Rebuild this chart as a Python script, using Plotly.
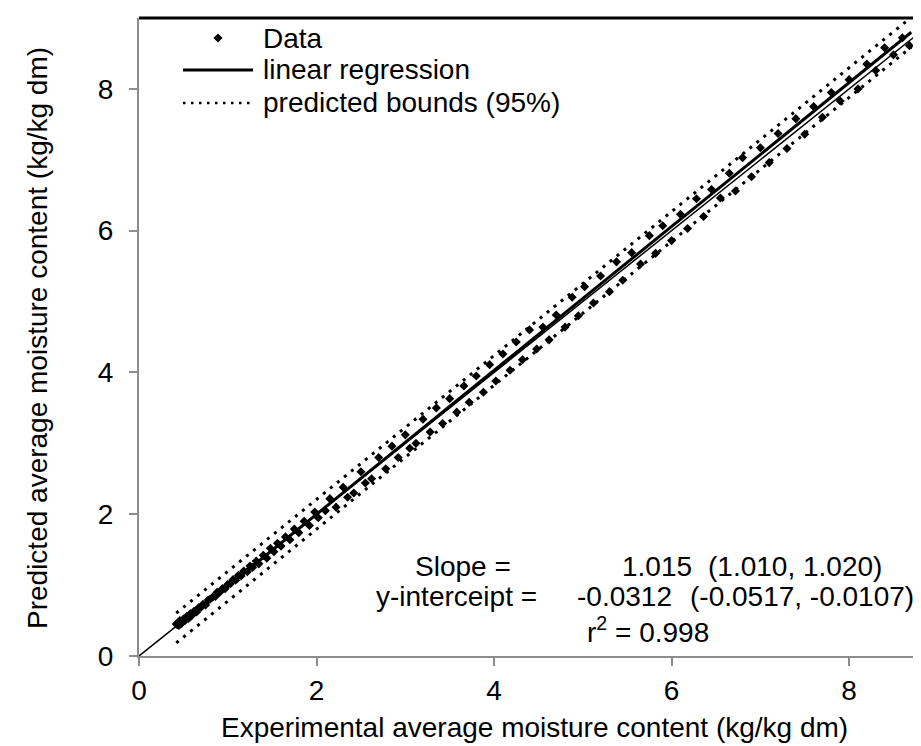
import plotly.graph_objects as go

# ---- data (approximate) ----
exp_x = [0.42, 0.44, 0.45, 0.46, 0.48, 0.50, 0.52, 0.54, 0.56, 0.58, 0.60, 0.62, 0.65, 0.67, 0.70,
         0.72, 0.75, 0.78, 0.80, 0.83, 0.86, 0.88, 0.91, 0.94, 0.97, 1.00, 1.03, 1.06, 1.09, 1.12,
         1.15, 1.18, 1.22, 1.25, 1.28, 1.32, 1.35, 1.40, 1.44, 1.48, 1.52, 1.56, 1.60, 1.65, 1.70,
         1.75, 1.80, 1.86, 1.92, 1.98, 2.02, 2.10, 2.15, 2.22, 2.30, 2.35, 2.42, 2.50, 2.55, 2.62,
         2.70, 2.78, 2.85, 2.92, 3.00, 3.05, 3.12, 3.20, 3.28, 3.35, 3.42, 3.50, 3.58, 3.66, 3.72,
         3.80, 3.88, 3.95, 4.02, 4.10, 4.18, 4.25, 4.32, 4.40, 4.48, 4.55, 4.62, 4.70, 4.80, 4.88,
         4.95, 5.02, 5.12, 5.20, 5.30, 5.38, 5.45, 5.55, 5.65, 5.75, 5.82, 5.90, 6.00, 6.10, 6.18,
         6.28, 6.36, 6.45, 6.55, 6.65, 6.72, 6.80, 6.90, 7.00, 7.10, 7.20, 7.30, 7.40, 7.50, 7.60,
         7.70, 7.80, 7.90, 8.00, 8.10, 8.20, 8.30, 8.40, 8.50, 8.60, 8.68]
pred_y = [0.45, 0.47, 0.43, 0.50, 0.46, 0.52, 0.50, 0.56, 0.53, 0.60, 0.58, 0.63, 0.62, 0.68, 0.69,
          0.73, 0.72, 0.79, 0.80, 0.83, 0.84, 0.90, 0.90, 0.95, 0.95, 1.01, 1.02, 1.08, 1.07, 1.14,
          1.13, 1.20, 1.19, 1.27, 1.25, 1.34, 1.30, 1.42, 1.38, 1.52, 1.47, 1.59, 1.55, 1.68, 1.64,
          1.79, 1.74, 1.90, 1.84, 2.03, 1.95, 2.05, 2.22, 2.10, 2.38, 2.24, 2.30, 2.60, 2.44, 2.50,
          2.80, 2.64, 2.96, 2.80, 3.12, 2.93, 3.00, 3.34, 3.16, 3.50, 3.28, 3.63, 3.44, 3.81, 3.58,
          3.95, 3.72, 4.11, 3.88, 4.26, 4.03, 4.43, 4.18, 4.60, 4.33, 4.64, 4.46, 4.81, 4.64, 5.06,
          4.80, 5.21, 4.98, 5.36, 5.14, 5.56, 5.30, 5.69, 5.53, 5.93, 5.68, 6.07, 5.86, 6.23, 6.03,
          6.45, 6.20, 6.58, 6.46, 6.81, 6.56, 7.03, 6.76, 7.17, 6.96, 7.37, 7.16, 7.58, 7.36, 7.75,
          7.60, 7.95, 7.83, 8.13, 8.00, 8.35, 8.26, 8.58, 8.48, 8.72, 8.61]

slope = 1.015
intercept = -0.0312
bound_offset = 0.21
fit_x = [0.42, 8.70]
ident_x = [0.0, 9.0]
tick_vals = [0, 2, 4, 6, 8]

fit_y = [slope * v + intercept for v in fit_x]
up_y = [v + bound_offset for v in fit_y]
lo_y = [v - bound_offset for v in fit_y]

FONT = "Arial, 'Liberation Sans', sans-serif"
W, H = 921, 746
L, R, T, B = 131, 0, 10, 98
pw, ph = W - L - R, H - T - B
fs = 28


def px(x):
    return (x - L) / pw


def py(y):
    return (H - B - y) / ph


fig = go.Figure()
fig.add_trace(go.Scatter(x=exp_x, y=pred_y, mode="markers",
                         marker=dict(symbol="diamond", size=7, color="black"), showlegend=False))
fig.add_trace(go.Scatter(x=ident_x, y=ident_x, mode="lines",
                         line=dict(color="black", width=1.5), showlegend=False))
fig.add_trace(go.Scatter(x=fit_x, y=fit_y, mode="lines",
                         line=dict(color="black", width=3), showlegend=False))
for yy in (up_y, lo_y):
    fig.add_trace(go.Scatter(x=fit_x, y=yy, mode="lines",
                             line=dict(color="black", width=3, dash="3px,6px"), showlegend=False))

LEG_Y = [30, 62, 95]
shapes = [
    dict(type="line", xref="paper", yref="paper", x0=0, x1=1, y0=1, y1=1,
         line=dict(color="black", width=3)),
    dict(type="line", xref="paper", yref="paper", x0=px(175), x1=px(245), y0=py(LEG_Y[1]), y1=py(LEG_Y[1]),
         line=dict(color="black", width=3)),
    dict(type="line", xref="paper", yref="paper", x0=px(175), x1=px(245), y0=py(LEG_Y[2]), y1=py(LEG_Y[2]),
         line=dict(color="black", width=2.5, dash="2.5px,5.5px")),
]

ann = []


def add_text(text, x, y, xanchor="left", angle=0):
    ann.append(dict(text=text, xref="paper", yref="paper", x=px(x), y=py(y), xanchor=xanchor,
                    yanchor="middle", showarrow=False, textangle=angle,
                    font=dict(family=FONT, size=fs, color="black")))


add_text("Data", 253, LEG_Y[0])
add_text("linear regression", 253, LEG_Y[1])
add_text("predicted bounds (95%)", 253, LEG_Y[2])
add_text("Slope =", 405, 558)
add_text("1.015", 612, 558)
add_text("(1.010, 1.020)", 876, 558, "right")
add_text("y-interceipt =", 366, 588)
add_text("-0.0312", 567, 588)
add_text("(-0.0517, -0.0107)", 908, 588, "right")
add_text("r<sup>2</sup> = 0.998", 640, 622, "center")
add_text("Experimental average moisture content (kg/kg dm)", 526, 719, "center")
add_text("Predicted average moisture content (kg/kg dm)", 30, 330, "center", -90)

# legend marker for Data
fig.add_trace(go.Scatter(x=[px(210)], y=[py(LEG_Y[0])], xaxis="x2", yaxis="y2", mode="markers",
                         marker=dict(symbol="diamond", size=7, color="black"), showlegend=False))

axis_common = dict(showgrid=False, zeroline=False, showline=True, linecolor="#8c8c8c", linewidth=2,
                   ticks="outside", ticklen=8, tickwidth=2, tickcolor="#8c8c8c",
                   tickfont=dict(family=FONT, size=fs, color="black"))

fig.update_layout(
    width=W, height=H, margin=dict(l=L, r=R, t=T, b=B),
    plot_bgcolor="white", paper_bgcolor="white", showlegend=False,
    xaxis=dict(range=[0, 8.9], tickvals=tick_vals, **axis_common),
    yaxis=dict(range=[0, 9], tickvals=tick_vals, ticklabelstandoff=10, **axis_common),
    xaxis2=dict(range=[0, 1], overlaying="x", visible=False),
    yaxis2=dict(range=[0, 1], overlaying="y", visible=False),
    shapes=shapes, annotations=ann,
)

fig.write_html("out.html")
